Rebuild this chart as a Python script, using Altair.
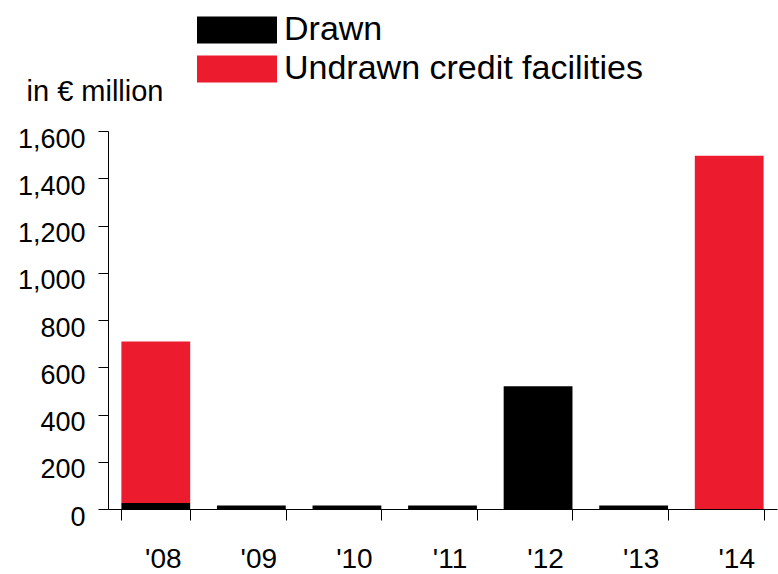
import altair as alt
import pandas as pd

years = ["'08", "'09", "'10", "'11", "'12", "'13", "'14"]
drawn = [25, 15, 15, 15, 520, 15, 0]
undrawn = [684, 0, 0, 0, 0, 0, 1495]
series = ["Drawn", "Undrawn credit facilities"]
colors = ["#000000", "#ED1B2E"]
y_ticks = [0, 200, 400, 600, 800, 1000, 1200, 1400, 1600]

rows = []
for i, yr in enumerate(years):
    rows.append({"year": yr, "series": series[0], "value": drawn[i], "ord": 0})
    rows.append({"year": yr, "series": series[1], "value": undrawn[i], "ord": 1})
df = pd.DataFrame(rows)

FONT = "Liberation Sans"

chart = alt.Chart(df).mark_bar().encode(
    x=alt.X("year:N", sort=years,
            scale=alt.Scale(paddingInner=0.28, paddingOuter=0.14),
            axis=alt.Axis(title=None, labelAngle=0, tickBand="extent",
                          labelFontSize=28, labelOffset=7, labelPadding=25,
                          tickSize=11, labelColor="#000", tickColor="#000",
                          domainColor="#000", labelFont=FONT)),
    y=alt.Y("value:Q", stack="zero",
            scale=alt.Scale(domain=[0, 1600], nice=False),
            axis=alt.Axis(values=y_ticks, format=",d", title="in € million",
                          titleAngle=0, titleX=-82, titleY=-31, titleAlign="left",
                          titleBaseline="alphabetic", titleFontSize=29,
                          titleFontWeight="normal", titleFont=FONT, titleColor="#000",
                          labelFontSize=27, labelFont=FONT, labelColor="#000",
                          labelOffset=8, labelPadding=13, tickSize=10,
                          tickColor="#000", domainColor="#000", grid=False)),
    color=alt.Color("series:N", sort=series,
                    scale=alt.Scale(domain=series, range=colors),
                    legend=alt.Legend(title=None, orient="none", legendX=112, legendY=-118,
                                      symbolType="M-8,-2.7h16v5.4h-16z", symbolSize=100,
                                      symbolStrokeWidth=0, labelFontSize=34, labelFont=FONT,
                                      labelColor="#000", labelOffset=30, rowPadding=5,
                                      labelLimit=500)),
    order=alt.Order("ord:Q", sort="ascending"),
).properties(
    width=669, height=378,
    padding={"left": 108, "top": 131, "right": 1, "bottom": 65},
    autosize=alt.AutoSizeParams(type="none"),
).configure(font=FONT, background="white").configure_view(stroke=None)

chart.save("out.html", embed_options={"renderer": "svg", "actions": False})
